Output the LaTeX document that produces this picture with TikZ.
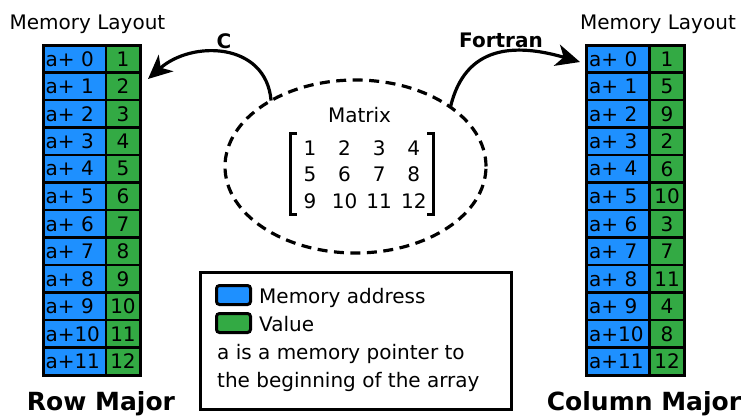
\documentclass[tikz,border=0pt]{standalone}
\usepackage{fontspec}
\setmainfont{DejaVu Sans}
\usetikzlibrary{arrows.meta,shapes.geometric}
\definecolor{addrblue}{RGB}{30,144,255}
\definecolor{valgreen}{RGB}{51,170,68}

\begin{document}
\begin{tikzpicture}[x=1pt,y=-1pt,
  font=\fontsize{20}{24}\selectfont,
  cellbase/.style={draw=black, line width=2.5pt, minimum height=27.5pt, inner sep=0pt, outer sep=0pt},
  addrcell/.style={cellbase, fill=addrblue, minimum width=63pt, text width=58pt, align=left},
  valcell/.style={cellbase, fill=valgreen, minimum width=34pt},
  title/.style={anchor=base},
  heading/.style={anchor=base, font=\fontsize{25}{29}\selectfont\bfseries},
  langlabel/.style={font=\fontsize{20}{24}\selectfont\bfseries},
  arr/.style={line width=3.2pt, -{Stealth[length=24pt,width=22pt,inset=7pt]}},
  swatch/.style={draw=black, line width=3pt, rounded corners=3pt, minimum width=34pt, minimum height=19pt, inner sep=0pt},
  mnum/.style={anchor=base, inner sep=0pt}
]
\useasboundingbox (0,0) rectangle (743,415);

% ---- row-major memory layout ----
\node[title] (ltitle) at (87.5,29) {Memory Layout};
\foreach \i in {0,...,11}{
  \node[addrcell] (la\i) at (74.5,{58.75+27.5*\i}) {a+\ifnum\i<10\ \fi\i};
  \node[valcell] (lv\i) at (123,{58.75+27.5*\i}) {\the\numexpr\i+1\relax};
}
\draw[line width=3pt] (43,45) rectangle (140,375);
\node[heading] (rowmajor) at (101,410) {Row Major};

% ---- column-major memory layout ----
\node[title] (rtitle) at (658,29) {Memory Layout};
\foreach \v [count=\j from 0] in {1,5,9,2,6,10,3,7,11,4,8,12}{
  \node[addrcell] (ra\j) at (618,{58.75+27.5*\j}) {a+\ifnum\j<10\ \fi\j};
  \node[valcell] (rv\j) at (667,{58.75+27.5*\j}) {\v};
}
\draw[line width=3pt] (586.5,45) rectangle (684,375);
\node[heading] (colmajor) at (644,410) {Column Major};

% ---- the matrix ----
\node[ellipse, draw, line width=3.2pt, dash pattern=on 10pt off 6.5pt,
      minimum width=261pt, minimum height=173pt, inner sep=0pt, outer sep=0pt] (mat) at (355.5,166.5) {};
\node[anchor=base] (mattitle) at (359.5,122) {Matrix};
\foreach \row [count=\r from 0] in {{1,2,3,4},{5,6,7,8},{9,10,11,12}}{
  \foreach \n [count=\c from 0] in \row{
    \node[mnum] (m\r\c) at ({310+34.6*\c},{155+26.5*\r}) {\n};
  }
}
\draw[line width=3pt] (297,133.5) -- (290.5,133.5) -- (290.5,214.5) -- (297,214.5);
\draw[line width=3pt] (427,133.5) -- (433.5,133.5) -- (433.5,214.5) -- (427,214.5);

% ---- language arrows ----
\coordinate (ctip) at (148,79);
\coordinate (ftip) at (580,62);
\draw[arr] (mat.142) .. controls (266,42) and (192,40) .. (ctip);
\draw[arr] (mat.32) .. controls (465,45) and (515,43) .. (ftip);
\node[langlabel] (clab) at (224,41) {C};
\node[langlabel] (flab) at (501,40) {Fortran};

% ---- legend ----
\node[draw, line width=3pt, minimum width=311pt, minimum height=137pt, inner sep=0pt] (legend) at (356,340.5) {};
\node[swatch, fill=addrblue] (sblue) at (233.5,295) {};
\node[swatch, fill=valgreen] (sgreen) at (233.5,323) {};
\node[anchor=base west, inner sep=0pt] (lblue) at (259,303) {Memory address};
\node[anchor=base west, inner sep=0pt] (lgreen) at (259,331) {Value};
\node[anchor=base west, inner sep=0pt] (lnote1) at (217,359) {a is a memory pointer to};
\node[anchor=base west, inner sep=0pt] (lnote2) at (217,387) {the beginning of the array};
\end{tikzpicture}
\end{document}
